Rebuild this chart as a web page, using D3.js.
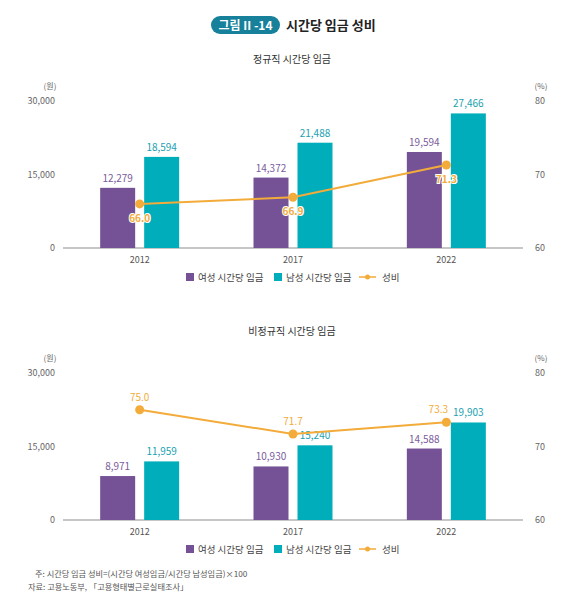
<!DOCTYPE html>
<html>
<head>
<meta charset="utf-8">
<script src="https://cdn.jsdelivr.net/npm/d3@7"></script>
<style>
  body { margin: 0; background: #fff; }
  svg { font-family: "Noto Sans CJK KR", "Noto Sans", sans-serif; }
</style>
</head>
<body>
<div id="chart"></div>
<script>
// data
const years = ["2012", "2017", "2022"];
const regFemale = [12279, 14372, 19594];
const regMale = [18594, 21488, 27466];
const regRatio = [66.0, 66.9, 71.3];
const irrFemale = [8971, 10930, 14588];
const irrMale = [11959, 15240, 19903];
const irrRatio = [75.0, 71.7, 73.3];
const wageTicks = [0, 15000, 30000];
const ratioTicks = [60, 70, 80];

const W = 567, H = 598;
const purple = "#755295", teal = "#00adbb", orange = "#f3ab3a";

const svg = d3.select("#chart").append("svg")
    .attr("width", W).attr("height", H);

// title
svg.append("rect").attr("x", 211).attr("y", 16).attr("width", 69).attr("height", 18)
    .attr("rx", 9).attr("fill", "#17819c");
svg.append("text").attr("x", 245.5).attr("y", 29.5).attr("text-anchor", "middle")
    .attr("fill", "#fff").attr("font-size", 12).attr("font-weight", "bold").text("그림 II -14");
svg.append("text").attr("x", 286).attr("y", 30).attr("font-size", 13).attr("font-weight", "bold")
    .attr("fill", "#222").text("시간당 임금 성비");

function drawChart(top, sub, female, male, ratio, ratioBelow) {
    const y0 = top + 175, y1 = top + 28;   // baseline and top of axis
    const x = d3.scaleBand().domain(years).range([63, 523]);
    const yW = d3.scaleLinear().domain([0, 30000]).range([y0, y1]);
    const yR = d3.scaleLinear().domain([60, 80]).range([y0, y1]);
    const g = svg.append("g");

    g.append("text").attr("x", 292).attr("y", top - 10).attr("text-anchor", "middle")
        .attr("font-size", 10).attr("fill", "#333").text(sub);

    // axes
    const la = g.append("g").attr("transform", "translate(58,0)")
        .call(d3.axisLeft(yW).tickValues(wageTicks).tickFormat(d3.format(",")).tickSize(0));
    const ra = g.append("g").attr("transform", "translate(532,0)")
        .call(d3.axisRight(yR).tickValues(ratioTicks).tickSize(0));
    [la, ra].forEach(a => {
        a.select(".domain").remove();
        a.selectAll("text").attr("fill", "#666").attr("font-size", 9)
            .attr("font-family", "\"Noto Sans CJK KR\", sans-serif");
    });
    g.append("text").attr("x", 50).attr("y", y1 - 12).attr("text-anchor", "middle")
        .attr("font-size", 8).attr("fill", "#666").text("(원)");
    g.append("text").attr("x", 541).attr("y", y1 - 12).attr("text-anchor", "middle")
        .attr("font-size", 8).attr("fill", "#666").text("(%)");

    g.append("line").attr("x1", 63).attr("x2", 523).attr("y1", y0).attr("y2", y0)
        .attr("stroke", "#b3b3b3").attr("stroke-width", 1.5);

    const xa = g.append("g").attr("transform", `translate(0,${y0})`)
        .call(d3.axisBottom(x).tickSize(0).tickPadding(9));
    xa.select(".domain").remove();
    xa.selectAll("text").attr("fill", "#555").attr("font-size", 9)
        .attr("font-family", "\"Noto Sans CJK KR\", sans-serif");

    const bw = 35, gap = 9;
    const cx = d => x(d) + x.bandwidth() / 2;
    const fmt = d3.format(",");

    // bars
    g.selectAll(".bf").data(years).join("rect")
        .attr("x", d => cx(d) - gap / 2 - bw).attr("width", bw)
        .attr("y", (d, i) => yW(female[i])).attr("height", (d, i) => y0 - yW(female[i]))
        .attr("fill", purple);
    g.selectAll(".bm").data(years).join("rect")
        .attr("x", d => cx(d) + gap / 2).attr("width", bw)
        .attr("y", (d, i) => yW(male[i])).attr("height", (d, i) => y0 - yW(male[i]))
        .attr("fill", teal);
    g.selectAll(".lf").data(years).join("text")
        .attr("x", d => cx(d) - gap / 2 - bw / 2).attr("y", (d, i) => yW(female[i]) - 6)
        .attr("text-anchor", "middle").attr("font-size", 10).attr("fill", "#7a5c9c")
        .text((d, i) => fmt(female[i]));
    g.selectAll(".lm").data(years).join("text")
        .attr("x", d => cx(d) + gap / 2 + bw / 2).attr("y", (d, i) => yW(male[i]) - 6)
        .attr("text-anchor", "middle").attr("font-size", 10).attr("fill", "#1a9fb2")
        .text((d, i) => fmt(male[i]));

    // ratio line
    const line = d3.line().x((d, i) => cx(years[i])).y(d => yR(d));
    g.append("path").datum(ratio).attr("d", line).attr("fill", "none")
        .attr("stroke", orange).attr("stroke-width", 2);
    g.selectAll(".pt").data(ratio).join("circle")
        .attr("cx", (d, i) => cx(years[i])).attr("cy", d => yR(d)).attr("r", 4.5)
        .attr("fill", orange);
    g.selectAll(".lr").data(ratio).join("text")
        .attr("x", (d, i) => cx(years[i]) - (!ratioBelow && i === years.length - 1 ? 8 : 0))
        .attr("y", d => ratioBelow ? yR(d) + 18 : yR(d) - 9)
        .attr("text-anchor", "middle").attr("font-size", 10).attr("fill", orange)
        .attr("stroke", ratioBelow ? "#fff" : "none").attr("stroke-width", ratioBelow ? 2 : 0)
        .attr("paint-order", "stroke")
        .attr("font-weight", ratioBelow ? "bold" : "normal")
        .text(d => d.toFixed(1));

    // legend
    const ly = y0 + 33;
    const lg = g.append("g");
    lg.append("rect").attr("x", 186).attr("y", ly - 8).attr("width", 8).attr("height", 8).attr("fill", purple);
    lg.append("text").attr("x", 198).attr("y", ly).attr("font-size", 9.5).attr("fill", "#444").text("여성 시간당 임금");
    lg.append("rect").attr("x", 274).attr("y", ly - 8).attr("width", 8).attr("height", 8).attr("fill", teal);
    lg.append("text").attr("x", 286).attr("y", ly).attr("font-size", 9.5).attr("fill", "#444").text("남성 시간당 임금");
    lg.append("line").attr("x1", 359).attr("x2", 376).attr("y1", ly - 4).attr("y2", ly - 4)
        .attr("stroke", orange).attr("stroke-width", 1.5);
    lg.append("circle").attr("cx", 367.5).attr("cy", ly - 4).attr("r", 2.5).attr("fill", orange);
    lg.append("text").attr("x", 382).attr("y", ly).attr("font-size", 9.5).attr("fill", "#444").text("성비");
}

drawChart(73, "정규직 시간당 임금", regFemale, regMale, regRatio, true);
drawChart(345, "비정규직 시간당 임금", irrFemale, irrMale, irrRatio, false);

// notes
svg.append("text").attr("x", 35).attr("y", 577).attr("font-size", 8.2).attr("fill", "#555")
    .text("주: 시간당 임금 성비=(시간당 여성임금/시간당 남성임금)×100");
svg.append("text").attr("x", 28).attr("y", 590).attr("font-size", 8.2).attr("fill", "#555")
    .text("자료: 고용노동부, 「고용형태별근로실태조사」");
</script>
</body>
</html>
